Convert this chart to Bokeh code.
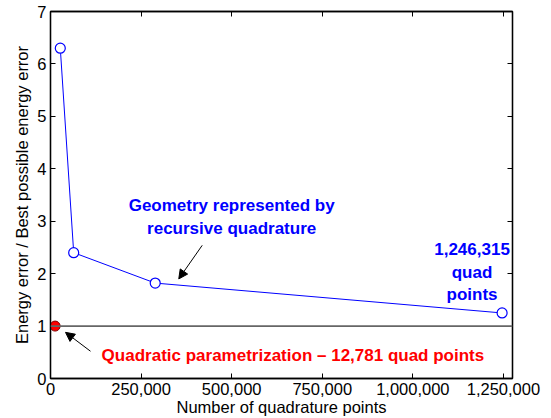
from bokeh.plotting import figure
from bokeh.models import (ColumnDataSource, Range1d, LinearAxis, FixedTicker,
                          NumeralTickFormatter, Span, Arrow, NormalHead, Label)
from bokeh.embed import file_html
from bokeh.resources import INLINE

# Recursive-quadrature runs: quadrature point count vs. energy error ratio
quad_points = [27000, 64000, 289000, 1246315]
error_ratio = [6.30, 2.40, 1.82, 1.25]

# Quadratic parametrization run
quadratic_points = [12781]
quadratic_ratio = [1.0]

# Best possible energy error (ratio of 1)
best_ratio = 1.0

x_ticks = [0, 250000, 500000, 750000, 1000000, 1250000]
y_ticks = [0, 1, 2, 3, 4, 5, 6, 7]

FONT = "Liberation Sans"

p = figure(width=551, height=418, output_backend="svg", toolbar_location=None,
           x_range=Range1d(0, 1275000), y_range=Range1d(0, 7),
           min_border_left=50, min_border_right=39,
           min_border_top=11, min_border_bottom=40,
           background_fill_color="white", border_fill_color="white")
p.grid.visible = False
p.outline_line_color = "black"
p.outline_line_width = 1.3

bottom = p.below[0]
left = p.left[0]

bottom.ticker = FixedTicker(ticks=x_ticks)
bottom.formatter = NumeralTickFormatter(format="0,0")
bottom.axis_label = "Number of quadrature points"
bottom.axis_label_standoff = 0
bottom.major_label_standoff = 4

left.ticker = FixedTicker(ticks=y_ticks)
left.axis_label = "Energy error / Best possible energy error"
left.axis_label_standoff = 3
left.major_label_standoff = 4

# Box ticks on top and right, without labels
top = LinearAxis(ticker=FixedTicker(ticks=x_ticks),
                 major_label_overrides={t: "" for t in x_ticks})
right = LinearAxis(ticker=FixedTicker(ticks=y_ticks),
                   major_label_overrides={t: "" for t in y_ticks})
for ax in (top, right):
    ax.major_label_standoff = 0
p.add_layout(top, "above")
p.add_layout(right, "right")

for ax in (bottom, left, top, right):
    ax.axis_line_color = "black"
    ax.axis_line_width = 1.3
    ax.major_tick_in = 5
    ax.major_tick_out = 0
    ax.minor_tick_in = 0
    ax.minor_tick_out = 0
    ax.major_tick_line_color = "black"
    ax.major_label_text_font = FONT
    ax.axis_label_text_font = FONT
    ax.axis_label_text_font_style = "normal"
    ax.axis_label_text_color = "black"
    ax.major_label_text_color = "black"
    ax.axis_label_text_font_size = "16.5px"
    ax.major_label_text_font_size = "16.5px"

# Reference line at the best possible error
p.add_layout(Span(location=best_ratio, dimension="width",
                  line_color="#666666", line_width=1.7))

src = ColumnDataSource(data=dict(x=quad_points, y=error_ratio))
p.line("x", "y", source=src, line_color="#0000ff", line_width=1)
p.scatter("x", "y", source=src, size=10, marker="circle",
          fill_color="white", line_color="#0000ff", line_width=1.2)

p.scatter(quadratic_points, quadratic_ratio, size=10, marker="circle",
          fill_color="#ff0000", line_color="#800000", line_width=1)

# Annotations
p.add_layout(Label(x=500000, y=3.08, text="Geometry represented by\nrecursive quadrature",
                   text_align="center", text_baseline="middle",
                   text_font=FONT, text_font_style="bold", text_font_size="17px",
                   text_color="#0000ff", text_line_height=1.2))
p.add_layout(Label(x=quad_points[-1] - 83000, y=2.03,
                   text="{:,}\nquad\npoints".format(quad_points[-1]),
                   text_align="center", text_baseline="middle",
                   text_font=FONT, text_font_style="bold", text_font_size="17px",
                   text_color="#0000ff", text_line_height=1.2))
p.add_layout(Label(x=669000, y=0.43,
                   text="Quadratic parametrization \u2013 {:,} quad points".format(quadratic_points[0]),
                   text_align="center", text_baseline="middle",
                   text_font=FONT, text_font_style="bold", text_font_size="17px",
                   text_color="#ff0000"))

p.add_layout(Arrow(x_start=418700, y_start=2.54, x_end=354000, y_end=1.90,
                   line_color="black", line_width=1,
                   end=NormalHead(size=9, fill_color="black", line_color="black")))
p.add_layout(Arrow(x_start=110400, y_start=0.52, x_end=41400, y_end=0.88,
                   line_color="black", line_width=1,
                   end=NormalHead(size=9, fill_color="black", line_color="black")))

open("out.html", "w").write(file_html(p, INLINE))
